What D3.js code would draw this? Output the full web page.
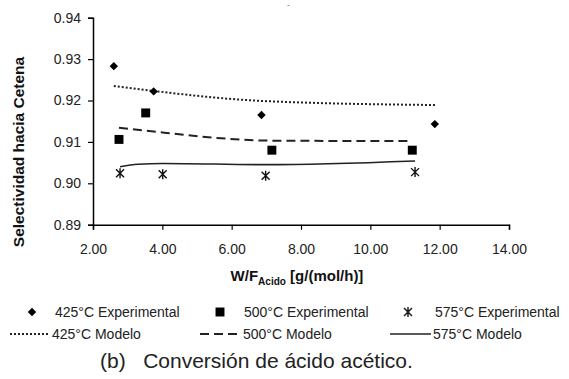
<!DOCTYPE html>
<html>
<head>
<meta charset="utf-8">
<script src="https://cdn.jsdelivr.net/npm/d3@7"></script>
<style>
  body { margin: 0; background: #fff; }
  svg { display: block; font-family: "Liberation Sans", Arial, sans-serif; }
</style>
</head>
<body>
<svg id="chart"></svg>
<script>
const w = 569;
const h = 379;

// experimental points [W/F, selectividad]
const exp425 = [[2.60, 0.9283], [3.75, 0.9222], [6.86, 0.9165], [11.86, 0.9143]];
const exp500 = [[2.75, 0.9106], [3.52, 0.9170], [7.16, 0.9080], [11.21, 0.9080]];
const exp575 = [[2.78, 0.9024], [4.01, 0.9022], [6.98, 0.9018], [11.29, 0.9027]];

// model curves
const mod425 = [[2.60, 0.9235], [3.75, 0.9223], [6.86, 0.9199], [11.90, 0.9189]];
const mod500 = [[2.75, 0.9134], [3.52, 0.9127], [7.16, 0.9103], [11.21, 0.9102]];
const mod575 = [[2.78, 0.9040], [3.30, 0.9046], [4.01, 0.9048], [6.98, 0.9045], [11.29, 0.9054]];

const xTicks = [2, 4, 6, 8, 10, 12, 14];
const yTicks = [0.89, 0.90, 0.91, 0.92, 0.93, 0.94];

const svg = d3.select("#chart").attr("width", w).attr("height", h);
svg.append("rect").attr("width", w).attr("height", h).attr("fill", "#fff");

const x = d3.scaleLinear().domain([2, 14]).range([93, 509]);
const y = d3.scaleLinear().domain([0.89, 0.94]).range([224.7, 17.7]);

// axes
const xAxis = d3.axisBottom(x).tickValues(xTicks).tickFormat(d3.format(".2f")).tickSizeOuter(0).tickSize(5);
const yAxis = d3.axisLeft(y).tickValues(yTicks).tickFormat(d3.format(".2f")).tickSizeOuter(0).tickSize(5);

const gx = svg.append("g").attr("transform", `translate(0,${y(0.89)})`).call(xAxis);
const gy = svg.append("g").attr("transform", `translate(${x(2)},0)`).call(yAxis);

[gx, gy].forEach(g => {
  g.select(".domain").attr("stroke", "#000").attr("stroke-width", 1.5);
  g.selectAll(".tick line").attr("stroke", "#000").attr("stroke-width", 1.2);
  g.selectAll(".tick text").attr("fill", "#222").style("font-size", "14px")
   .style("font-family", "Liberation Sans, Arial, sans-serif");
});
gx.selectAll(".tick text").attr("dy", "1.5em");
gy.selectAll(".tick text").attr("x", -12);

// axis titles
svg.append("text")
   .attr("transform", "translate(24,152) rotate(-90)")
   .attr("text-anchor", "middle")
   .style("font-size", "15.5px").style("font-weight", "bold").attr("fill", "#111")
   .text("Selectividad hacia Cetena");

const xt = svg.append("text")
   .attr("x", 297).attr("y", 281)
   .attr("text-anchor", "middle")
   .style("font-size", "15px").style("font-weight", "bold").attr("fill", "#111");
xt.append("tspan").text("W/F");
xt.append("tspan").attr("dy", 4).style("font-size", "10px").text("Acido");
xt.append("tspan").attr("dy", -4).text(" [g/(mol/h)]");

// small mark at top
svg.append("text").attr("x", 287).attr("y", 7).style("font-size", "8px").attr("fill", "#555").text("-");

// model lines
const line = d3.line().x(d => x(d[0])).y(d => y(d[1])).curve(d3.curveMonotoneX);
const models = [
  { data: mod425, dash: "2,2", width: 2 },
  { data: mod500, dash: "9,5", width: 2 },
  { data: mod575, dash: null, width: 1.6 }
];
models.forEach(m => {
  svg.append("path").datum(m.data)
     .attr("d", line)
     .attr("fill", "none")
     .attr("stroke", "#222")
     .attr("stroke-width", m.width)
     .attr("stroke-dasharray", m.dash);
});

// markers
const diamond = d3.symbol().type(d3.symbolDiamond2).size(45);
const square = d3.symbol().type(d3.symbolSquare).size(80);
const star = "M-4,-4L4,4M-4,4L4,-4M0,-5L0,5";

svg.selectAll(".d425").data(exp425).enter().append("path")
   .attr("transform", d => `translate(${x(d[0])},${y(d[1])})`)
   .attr("d", diamond).attr("fill", "#000");
svg.selectAll(".d500").data(exp500).enter().append("path")
   .attr("transform", d => `translate(${x(d[0])},${y(d[1])})`)
   .attr("d", square).attr("fill", "#000");
svg.selectAll(".d575").data(exp575).enter().append("path")
   .attr("transform", d => `translate(${x(d[0])},${y(d[1])})`)
   .attr("d", star).attr("stroke", "#111").attr("stroke-width", 1.4).attr("fill", "none");

// legend
const legendFont = "14px";
const row1 = 312, row2 = 334;
const leg1 = [
  { mark: diamond, sx: 32, tx: 55, label: "425°C Experimental", fill: true },
  { mark: square, sx: 220, tx: 244, label: "500°C Experimental", fill: true },
  { mark: star, sx: 408, tx: 435, label: "575°C Experimental", fill: false }
];
leg1.forEach(l => {
  const p = svg.append("path").attr("transform", `translate(${l.sx},${row1})`);
  if (l.fill) p.attr("d", l.mark).attr("fill", "#000");
  else p.attr("d", l.mark).attr("stroke", "#111").attr("stroke-width", 1.4).attr("fill", "none");
  svg.append("text").attr("x", l.tx).attr("y", row1 + 5).style("font-size", legendFont)
     .attr("fill", "#222").text(l.label);
});
const leg2 = [
  { x1: 10, x2: 50, tx: 52, label: "425°C Modelo", m: models[0] },
  { x1: 200, x2: 240, tx: 243, label: "500°C Modelo", m: models[1] },
  { x1: 390, x2: 431, tx: 433, label: "575°C Modelo", m: models[2] }
];
leg2.forEach(l => {
  svg.append("line").attr("x1", l.x1).attr("x2", l.x2).attr("y1", row2).attr("y2", row2)
     .attr("stroke", "#222").attr("stroke-width", l.m.width).attr("stroke-dasharray", l.m.dash);
  svg.append("text").attr("x", l.tx).attr("y", row2 + 5).style("font-size", legendFont)
     .attr("fill", "#222").text(l.label);
});

// caption
svg.append("text").attr("x", 100).attr("y", 368).style("font-size", "21px").attr("fill", "#222")
   .attr("xml:space", "preserve").text("(b)   Conversión de ácido acético.");
</script>
</body>
</html>
